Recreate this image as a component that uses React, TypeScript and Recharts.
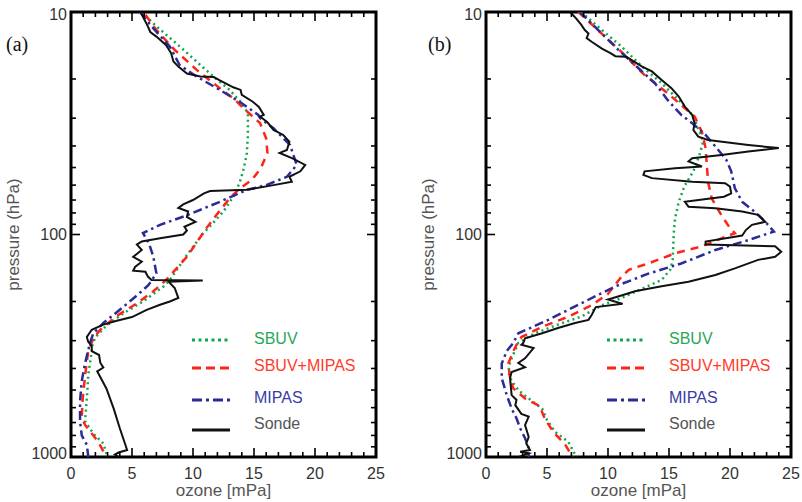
import { LineChart, Line, XAxis, YAxis, ReferenceArea, Legend, Label } from "recharts";

// profiles: [pressure hPa, ozone mPa], top of atmosphere first
const sbuvA = [
  [10.4, 6.1], [11.6, 7.0], [14.1, 8.8], [17.3, 10.6], [19.8, 11.8], [22.4, 13.0], [25.7, 14.0],
  [28.5, 14.5], [35.7, 14.5], [43.9, 14.4], [52, 14.1], [57.9, 13.85], [66.3, 13.4], [78.8, 12.5],
  [90.5, 11.5], [98.6, 10.85], [121.5, 9.6], [160, 8.1], [171, 7.6], [200, 5.9], [226, 4.3],
  [260, 2.8], [289, 2.0], [320, 1.7], [334, 1.7], [425, 1.42], [546, 1.3], [690, 1.15],
  [785, 1.83], [870, 2.65], [1000, 3.0],
];
const comboA = [
  [10.3, 6.1], [12.05, 7.0], [14.8, 8.5], [18.2, 10.3], [22, 12.2], [24.4, 13.3], [27.6, 14.3],
  [31.6, 15.5], [37, 16.0], [43, 16.1], [50.5, 15.55], [57, 14.8], [62, 13.85], [68.8, 13.0],
  [82, 11.9], [93.6, 11.1], [126, 9.5], [160, 7.8], [180, 6.75], [204, 5.4], [232, 3.75],
  [268, 2.4], [293, 1.83], [320, 1.56], [330, 1.42], [433, 1.15], [546, 0.96], [658, 0.88],
  [718, 1.15], [855, 2.24], [1000, 2.9],
];
const mipasA = [
  [10, 5.66], [11.6, 6.6], [14.3, 8.1], [17.3, 8.9], [19.5, 10.3], [22.4, 12.2], [25.7, 14.0],
  [29, 15.35], [30, 15.5], [33.3, 16.6], [39.6, 17.95], [48.7, 18.5], [55, 17.7], [60, 16.0],
  [63, 14.4], [71.3, 12.2], [82, 9.5], [90.5, 7.3], [98.6, 5.9], [110, 6.4], [126, 6.75],
  [149.5, 7.0], [169, 6.34], [188, 5.4], [218, 4.0], [250, 2.65], [278, 1.83], [307, 1.56],
  [380, 1.15], [456, 0.88], [564, 0.74], [690, 0.74], [800, 0.88], [882, 1.3], [1000, 1.42],
];
const sondeA = [
  [10, 5.7], [11.6, 6.3], [12.3, 6.5], [12.9, 7.0], [14.1, 7.8], [15.3, 8.2], [16.7, 8.4],
  [17.6, 8.8], [18.9, 9.5], [19.5, 10.6], [19.6, 11.7], [20.3, 12.2], [21.8, 13.3], [22.4, 13.9],
  [23.6, 14.0], [25.3, 14.9], [26.7, 15.4], [29, 15.8], [29.5, 15.5], [31.3, 16.1], [33.9, 16.6],
  [35.7, 17.4], [38.3, 17.9], [41.7, 17.7], [43, 17.1], [45.6, 18.2], [48.7, 19.2], [52, 18.8],
  [55, 17.9], [57.9, 18.1], [60, 16.6], [63, 14.4], [63.8, 11.4], [65.3, 10.9], [70, 10.0],
  [73.2, 9.2], [76, 8.8], [78.8, 9.6], [83.4, 9.5], [87.7, 10.2], [92.3, 9.3], [96, 9.5],
  [100, 9.2], [104, 7.3], [107.5, 5.8], [111, 5.4], [117.4, 5.8], [126, 5.1], [132.5, 5.8],
  [140, 5.25], [145.5, 5.1], [147, 6.1], [154.6, 6.3], [160, 6.6], [161, 10.8], [163, 8.0],
  [174, 8.5], [193, 8.8], [200, 8.1], [207, 7.3], [218, 6.2], [235, 5.0], [244, 3.75],
  [254, 2.65], [268, 1.7], [289, 1.3], [303, 1.4], [317, 1.7], [334, 1.7], [348, 2.3],
  [377, 2.4], [396, 2.65], [412, 2.15], [492, 2.9], [606, 3.5], [743, 4.0], [930, 4.6],
  [955, 3.9], [975, 3.6], [1000, 3.9],
];

const sbuvB = [
  [10, 7.8], [12.05, 9.5], [14.3, 11.1], [17.6, 12.8], [20.9, 14.4], [24.9, 15.8], [29, 16.9],
  [33.3, 17.4], [38.3, 17.8], [43.9, 17.5], [52, 17.0], [60, 16.3], [71.3, 15.8], [84.6, 15.5],
  [97.1, 15.4], [130, 15.3], [144, 15.1], [160, 14.4], [175, 12.8], [193, 11.1], [208, 9.5],
  [234, 7.8], [254, 5.9], [278, 4.0], [307, 2.65], [330, 2.4], [374, 1.97], [415, 1.83],
  [456, 2.1], [500, 2.65], [546, 3.5], [606, 4.6], [682, 5.0], [770, 5.65], [855, 6.75],
  [1000, 7.4],
];
const comboB = [
  [10, 7.57], [12.3, 9.34], [15.1, 11.1], [19.2, 13.0], [23.2, 14.9], [26.2, 16.0], [29.5, 17.1],
  [34.6, 17.7], [40.9, 18.0], [48.7, 18.1], [57.9, 18.2], [68.8, 18.5], [82, 19.3], [93.6, 20.0],
  [98.6, 20.4], [104, 19.3], [113, 17.7], [121.5, 15.5], [135, 13.3], [144, 11.7], [155, 11.1],
  [185, 10.0], [208, 8.66], [234, 6.75], [260, 4.6], [289, 2.9], [313, 2.5], [334, 2.24],
  [380, 1.83], [442, 1.97], [492, 2.24], [546, 3.2], [590, 4.4], [670, 4.8], [770, 5.5],
  [882, 6.5], [1000, 7.1],
];
const mipasB = [
  [10, 7.7], [12.05, 9.2], [14.8, 10.85], [17.9, 12.5], [20.9, 13.85], [24.9, 14.9], [29, 16.0],
  [31.6, 16.9], [35.7, 18.0], [40.2, 18.8], [46.2, 19.7], [52, 20.1], [62, 20.4], [71.3, 21.0],
  [78.8, 22.0], [87.7, 22.9], [97, 23.6], [106, 21.5], [117.4, 18.8], [135, 16.0], [150, 13.3],
  [171, 10.6], [204, 7.8], [242, 5.1], [278, 2.65], [307, 2.24], [334, 1.7], [380, 1.29],
  [442, 1.29], [527, 1.7], [606, 2.1], [670, 2.5], [743, 2.8], [824, 3.2], [910, 3.5], [1000, 3.5],
];
const sondeB = [
  [10, 6.9], [10.7, 7.4], [11.4, 7.8], [12.05, 8.1], [12.5, 8.4], [13.1, 8.25], [13.6, 8.66],
  [14.6, 9.5], [15.3, 10.2], [15.8, 10.6], [15.9, 11.5], [17.6, 12.8], [18.5, 13.6], [20.2, 14.4],
  [22, 15.2], [24, 15.8], [26.6, 16.3], [29, 16.9], [31.6, 17.1], [33.9, 17.0], [36.3, 17.4],
  [37.6, 18.2], [39.6, 21.5], [40.9, 24.0], [42.4, 21.5], [43.9, 19.3], [45.4, 16.9], [46.9, 16.6],
  [49.5, 17.7], [50.4, 15.5], [52, 13.0], [54, 12.9], [55.8, 13.6], [57.9, 16.9], [58.8, 19.6],
  [60.9, 20.0], [65.3, 20.1], [67.6, 19.5], [71.3, 16.3], [75, 16.6], [76.3, 18.8], [78.8, 21.0],
  [81.6, 22.3], [87.7, 22.9], [90.5, 21.8], [95.5, 21.3], [101, 21.0], [107.5, 18.0], [111, 18.0],
  [113, 23.7], [119.5, 24.2], [126, 23.7], [130, 22.3], [142, 20.4], [152, 18.8], [163, 16.6],
  [171, 14.4], [180, 12.2], [185, 11.5], [196, 10.0], [205, 11.2], [212, 9.0], [230, 8.66],
  [242, 8.4], [250, 7.3], [263, 5.9], [278, 4.6], [293, 3.2], [307, 3.06], [313, 2.9],
  [324, 3.9], [360, 3.2], [378, 2.65], [395, 3.2], [415, 2.1], [442, 1.97], [527, 2.1],
  [554, 2.5], [585, 2.4], [640, 2.9], [658, 3.5], [718, 3.2], [813, 3.5], [868, 3.3],
  [930, 3.6], [947, 2.8], [963, 3.5], [1000, 2.7],
];

const ozoneTicks = [0, 1, 2, 3, 4, 5, 6, 7, 8, 9, 10, 11, 12, 13, 14, 15, 16, 17, 18, 19, 20, 21, 22, 23, 24, 25];
const ozoneLabels = [0, 5, 10, 15, 20, 25];
const pressureTicks = [10, 20, 30, 40, 50, 60, 70, 80, 90, 100, 200, 300, 400, 500, 600, 700, 800, 900, 1000];
const pressureLabels = [10, 100, 1000];

const PLOT_W = 305;
const PLOT_H = 445;
const SANS = "'Liberation Sans', Arial, Helvetica, sans-serif";

const styles = [
  { name: "SBUV", color: "#12a54c", text: "#2aa657", dash: "2 3.5", legendDash: "3 3.5", width: 2.5 },
  { name: "SBUV+MIPAS", color: "#ff2318", text: "#ff3b2a", dash: "8 6", legendDash: "9 5", width: 2.5 },
  { name: "MIPAS", color: "#2b2b98", text: "#3b3ba6", dash: "9 4 2.5 4", legendDash: "10 4 3 4", width: 2.5 },
  { name: "Sonde", color: "#111111", text: "#555555", dash: undefined, legendDash: undefined, width: 2 },
];

const toRows = (pts: number[][]) => pts.map(([p, o]) => ({ p, o }));

const PressureTick = (props: any) => {
  const { x, y, payload } = props;
  const major = pressureLabels.includes(payload.value);
  const len = major ? 9 : 5;
  const shift = payload.value === 1000 ? -4 : payload.value === 10 ? 2 : 0;
  return (
    <g>
      <line x1={x} y1={y} x2={x + len} y2={y} stroke="#000" strokeWidth={1.6} />
      <line x1={x + PLOT_W} y1={y} x2={x + PLOT_W - len} y2={y} stroke="#000" strokeWidth={1.6} />
      {major && (
        <text x={x - 4} y={y + shift} dy="0.35em" textAnchor="end" fontSize={16} fill="#333" fontFamily={SANS}>
          {payload.value}
        </text>
      )}
    </g>
  );
};

const OzoneTick = (props: any) => {
  const { x, y, payload } = props;
  const major = ozoneLabels.includes(payload.value);
  const len = major ? 9 : 5;
  return (
    <g>
      <line x1={x} y1={y} x2={x} y2={y - len} stroke="#000" strokeWidth={1.6} />
      <line x1={x} y1={y - PLOT_H} x2={x} y2={y - PLOT_H + len} stroke="#000" strokeWidth={1.6} />
      {major && (
        <text x={x} y={y + 16} dy="0.35em" textAnchor="middle" fontSize={16} fill="#333" fontFamily={SANS}>
          {payload.value}
        </text>
      )}
    </g>
  );
};

const lineY = [15, 43, 75, 105];
const textY = [19, 46, 78, 104];

const LegendBox = () => (
  <svg width={200} height={115} style={{ display: "block" }}>
    {styles.map((s, i) => (
      <g key={s.name}>
        <line x1={0} x2={38} y1={lineY[i]} y2={lineY[i]} stroke={s.color} strokeWidth={3} strokeDasharray={s.legendDash} />
        <text x={62} y={textY[i]} fontSize={16} fill={s.text} fontFamily={SANS}>
          {s.name}
        </text>
      </g>
    ))}
  </svg>
);

function Panel({ left, width, yWidth, tag, tagX, series }: {
  left: number; width: number; yWidth: number; tag: string; tagX: number; series: number[][][];
}) {
  const right = width - yWidth - PLOT_W;
  return (
    <div style={{ position: "absolute", left, top: 0, width, height: 502 }}>
      <LineChart width={width} height={502} layout="vertical" margin={{ top: 12, right, left: 0, bottom: 0 }}>
        <XAxis
          type="number"
          domain={[0, 25]}
          ticks={ozoneTicks}
          interval={0}
          tick={<OzoneTick />}
          tickLine={false}
          axisLine={false}
          tickSize={0}
          tickMargin={0}
          height={45}
          allowDataOverflow
        >
          <Label value="ozone [mPa]" position="insideBottom" offset={6} fontSize={17} fill="#555" fontFamily={SANS} />
        </XAxis>
        <YAxis
          type="number"
          dataKey="p"
          scale="log"
          domain={[10, 1000]}
          ticks={pressureTicks}
          interval={0}
          tick={<PressureTick />}
          tickLine={false}
          axisLine={false}
          tickSize={0}
          tickMargin={0}
          width={yWidth}
          allowDataOverflow
        >
          <Label
            content={(p: any) => {
              const vb = p.viewBox;
              const cx = vb.x + vb.width - 52;
              const cy = vb.y + vb.height / 2;
              return (
                <text x={cx} y={cy} transform={`rotate(-90 ${cx} ${cy})`} textAnchor="middle" fontSize={17} fill="#555" fontFamily={SANS}>
                  pressure (hPa)
                </text>
              );
            }}
          />
        </YAxis>
        <ReferenceArea x1={0} x2={25} y1={10} y2={1000} fill="none" stroke="#000" strokeWidth={3} ifOverflow="visible" />
        {styles.map((s, i) => (
          <Line
            key={s.name}
            name={s.name}
            data={toRows(series[i])}
            dataKey="o"
            type="linear"
            stroke={s.color}
            strokeWidth={s.width}
            strokeDasharray={s.dash}
            dot={false}
            activeDot={false}
            isAnimationActive={false}
          />
        ))}
        <Legend
          layout="vertical"
          align="center"
          verticalAlign="middle"
          content={<LegendBox />}
          wrapperStyle={{ left: yWidth + 121, top: 325, width: 200 }}
        />
      </LineChart>
      <div style={{ position: "absolute", left: tagX, top: 33, fontFamily: "'Liberation Serif', 'Times New Roman', serif", fontSize: 20, color: "#111" }}>
        {tag}
      </div>
    </div>
  );
}

export default function App() {
  return (
    <div style={{ position: "absolute", left: 0, top: 0, width: 802, height: 502, background: "#fff" }}>
      <Panel left={0} width={400} yWidth={71} tag="(a)" tagX={6} series={[sbuvA, comboA, mipasA, sondeA]} />
      <Panel left={400} width={402} yWidth={86} tag="(b)" tagX={28} series={[sbuvB, comboB, mipasB, sondeB]} />
    </div>
  );
}
